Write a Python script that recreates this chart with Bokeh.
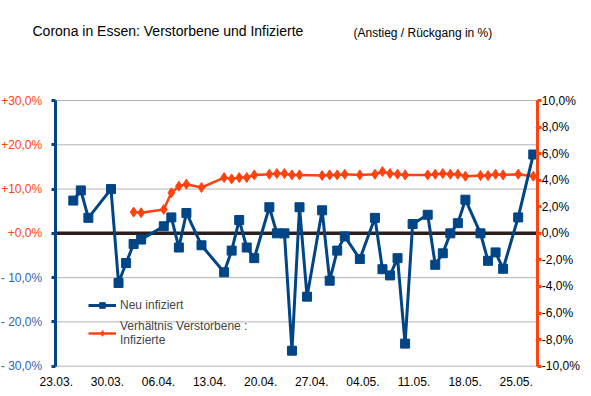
import pandas as pd
from bokeh.plotting import figure
from bokeh.models import (Range1d, LinearAxis, FixedTicker, Label, Legend, LegendItem)
from bokeh.embed import file_html
from bokeh.resources import INLINE

# ---------------- data ----------------
blue_dates = ["2020-03-25", "2020-03-26", "2020-03-27", "2020-03-30", "2020-03-31",
              "2020-04-01", "2020-04-02", "2020-04-03", "2020-04-06", "2020-04-07",
              "2020-04-08", "2020-04-09", "2020-04-11", "2020-04-14", "2020-04-15",
              "2020-04-16", "2020-04-17", "2020-04-18", "2020-04-20", "2020-04-21",
              "2020-04-22", "2020-04-23", "2020-04-24", "2020-04-25", "2020-04-27",
              "2020-04-28", "2020-04-29", "2020-04-30", "2020-05-02", "2020-05-04",
              "2020-05-05", "2020-05-06", "2020-05-07", "2020-05-08", "2020-05-09",
              "2020-05-11", "2020-05-12", "2020-05-13", "2020-05-14", "2020-05-15",
              "2020-05-16", "2020-05-18", "2020-05-19", "2020-05-20", "2020-05-21",
              "2020-05-23", "2020-05-25"]
neu_infiziert = [7.4, 9.7, 3.5, 10.0, -11.2,
                 -6.7, -2.4, -1.4, 1.6, 3.6,
                 -3.2, 4.6, -2.7, -8.8, -3.9,
                 3.0, -3.2, -5.6, 5.9, 0.0,
                 0.0, -26.5, 5.9, -14.3, 5.2,
                 -10.7, -3.9, -0.7, -5.8, 3.5,
                 -8.1, -9.5, -5.6, -24.9, 2.1,
                 4.2, -7.1, -4.5, 0.0, 2.3,
                 7.6, 0.0, -6.2, -4.3, -8.0,
                 3.6, 17.8]

orange_dates = ["2020-04-02", "2020-04-03", "2020-04-06", "2020-04-07", "2020-04-08",
                "2020-04-09", "2020-04-11", "2020-04-14", "2020-04-15", "2020-04-16",
                "2020-04-17", "2020-04-18", "2020-04-20", "2020-04-21", "2020-04-22",
                "2020-04-23", "2020-04-24", "2020-04-27", "2020-04-28", "2020-04-29",
                "2020-04-30", "2020-05-02", "2020-05-04", "2020-05-05", "2020-05-06",
                "2020-05-07", "2020-05-08", "2020-05-11", "2020-05-12", "2020-05-13",
                "2020-05-14", "2020-05-15", "2020-05-16", "2020-05-18", "2020-05-19",
                "2020-05-20", "2020-05-21", "2020-05-23", "2020-05-25"]
verhaeltnis = [1.6, 1.55, 1.8, 3.05, 3.55,
               3.7, 3.45, 4.2, 4.1, 4.2,
               4.2, 4.4, 4.45, 4.5, 4.5,
               4.4, 4.4, 4.35, 4.4, 4.4,
               4.45, 4.4, 4.45, 4.65, 4.5,
               4.45, 4.4, 4.4, 4.45, 4.5,
               4.45, 4.45, 4.3, 4.35, 4.35,
               4.45, 4.4, 4.45, 4.3]

x_tick_dates = ["2020-03-23", "2020-03-30", "2020-04-06", "2020-04-13", "2020-04-20",
                "2020-04-27", "2020-05-04", "2020-05-11", "2020-05-18", "2020-05-25"]
x_tick_labels = ["23.03.", "30.03.", "06.04.", "13.04.", "20.04.",
                 "27.04.", "04.05.", "11.05.", "18.05.", "25.05."]
left_ticks = [30, 20, 10, 0, -10, -20, -30]
right_ticks = [10, 8, 6, 4, 2, 0, -2, -4, -6, -8, -10]

title_text = "Corona in Essen: Verstorbene und Infizierte"
subtitle_text = "(Anstieg / Rückgang in %)"
series_names = ["Neu infiziert", "Verhältnis Verstorbene :\nInfizierte"]

# ---------------- helpers ----------------
ref = pd.Timestamp(blue_dates[0])
def day_offsets(ds):
    return [(pd.Timestamp(d) - ref).days for d in ds]

bx = day_offsets(blue_dates)
ox = day_offsets(orange_dates)
tx = day_offsets(x_tick_dates)

BLUE = "#004586"
ORANGE = "#ff420e"
NEG = "#3465a4"
GRID = "#b3b3b3"
FONT = "Liberation Sans"

W, H = 591, 396
# plot area inside the canvas (px; x from left, y from bottom)
PA_L, PA_R, PA_B, PA_T = 54.7, 537.3, 30.3, 296.0
X_LO, X_HI = -2.4, 61.6          # day span covered by the plot area
Y_LO, Y_HI = -30, 30             # left axis
R_LO, R_HI = -10, 10             # right axis

def extend(lo, hi, plo, phi, total):
    s = (hi - lo) / (phi - plo)
    return Range1d(lo - plo * s, hi + (total - phi) * s)

p = figure(width=W, height=H, output_backend="svg", toolbar_location=None,
           x_range=extend(X_LO, X_HI, PA_L, PA_R, W),
           y_range=extend(Y_LO, Y_HI, PA_B, PA_T, H),
           x_axis_type=None, y_axis_type=None, min_border=0)
p.outline_line_color = None
p.background_fill_color = "white"
p.border_fill_color = "white"
p.xgrid.visible = False
p.ygrid.visible = False

p.extra_y_ranges = {"right": extend(R_LO, R_HI, PA_B, PA_T, H)}
# LibreOffice spaces its date labels slightly tighter than the points
p.extra_x_ranges = {"lbl": extend(tx[0], tx[-1], 55.8, 515.7, W)}

# horizontal gridlines + zero line
gl = [t for t in left_ticks if t != 0]
p.segment(x0=[X_LO] * len(gl), x1=[X_HI] * len(gl), y0=gl, y1=gl,
          line_color=GRID, line_width=1)
p.segment(x0=[X_LO], x1=[X_HI], y0=[0], y1=[0], line_color="#2d1e1e", line_width=3.5)

# series
ol = p.line(ox, verhaeltnis, y_range_name="right", line_color=ORANGE, line_width=2.5)
om = p.scatter(ox, verhaeltnis, y_range_name="right", marker="diamond", size=10,
               fill_color=ORANGE, line_color=ORANGE)
bl = p.line(bx, neu_infiziert, line_color=BLUE, line_width=3)
bm = p.scatter(bx, neu_infiziert, marker="square", size=9, fill_color=BLUE, line_color=BLUE)

# left axis: positive labels orange, negative labels blue
def fmt_left(v):
    return ("+%d,0%%" % v) if v >= 0 else ("- %d,0%%" % abs(v))

common = dict(major_tick_out=4, major_tick_in=0, minor_tick_out=0, minor_tick_in=0,
              major_label_standoff=9, major_label_text_font=FONT,
              major_label_text_font_size="12px")
neg = [t for t in left_ticks if t < 0]
ly = LinearAxis(fixed_location=X_LO, bounds=(Y_LO, Y_HI), ticker=FixedTicker(ticks=left_ticks),
                major_label_overrides={t: (fmt_left(t) if t >= 0 else "") for t in left_ticks},
                axis_line_color=BLUE, axis_line_width=3,
                major_tick_line_color=BLUE, major_tick_line_width=3,
                major_label_text_color=ORANGE, **common)
p.add_layout(ly, "left")
ly2 = LinearAxis(fixed_location=X_LO, bounds=(Y_LO, Y_HI), ticker=FixedTicker(ticks=neg),
                 major_label_overrides={t: fmt_left(t) for t in neg},
                 axis_line_color=None, major_tick_line_color=None,
                 major_label_text_color=NEG, **common)
p.add_layout(ly2, "left")

# right axis
ry = LinearAxis(y_range_name="right", fixed_location=X_HI, bounds=(R_LO, R_HI),
                ticker=FixedTicker(ticks=right_ticks),
                major_label_overrides={t: ("%d,0%%" % t) for t in right_ticks},
                axis_line_color=ORANGE, axis_line_width=3,
                major_tick_line_color=ORANGE, major_tick_line_width=3,
                major_tick_out=4, major_tick_in=0, minor_tick_out=0, minor_tick_in=0,
                major_label_standoff=0, major_label_text_font=FONT,
                major_label_text_font_size="12px", major_label_text_color="black")
p.add_layout(ry, "right")

# bottom date labels
bxax = LinearAxis(x_range_name="lbl", fixed_location=Y_LO, ticker=FixedTicker(ticks=tx),
                  major_label_overrides={t: l for t, l in zip(tx, x_tick_labels)},
                  axis_line_color=None, major_tick_line_color=None,
                  major_tick_out=0, major_tick_in=0, minor_tick_out=0, minor_tick_in=0,
                  major_label_standoff=11, major_label_text_font=FONT,
                  major_label_text_font_size="12px", major_label_text_color="black")
p.add_layout(bxax, "below")

legend = Legend(items=[LegendItem(label=series_names[0], renderers=[bl, bm]),
                       LegendItem(label=series_names[1], renderers=[ol, om])],
                location=(88, 49), background_fill_alpha=0, border_line_color=None,
                label_text_font=FONT, label_text_font_size="12px",
                label_text_line_height=1.5,
                glyph_width=28, glyph_height=14, label_standoff=4,
                spacing=7, padding=0, margin=0, label_height=14)
p.add_layout(legend)

# titles
p.add_layout(Label(x=32, y=366, x_units="screen", y_units="screen", text=title_text,
                   text_font=FONT, text_font_size="14px", text_baseline="middle",
                   text_color="black"))
p.add_layout(Label(x=353, y=364, x_units="screen", y_units="screen", text=subtitle_text,
                   text_font=FONT, text_font_size="12px", text_baseline="middle",
                   text_color="black"))

open("out.html", "w").write(file_html(p, INLINE))
